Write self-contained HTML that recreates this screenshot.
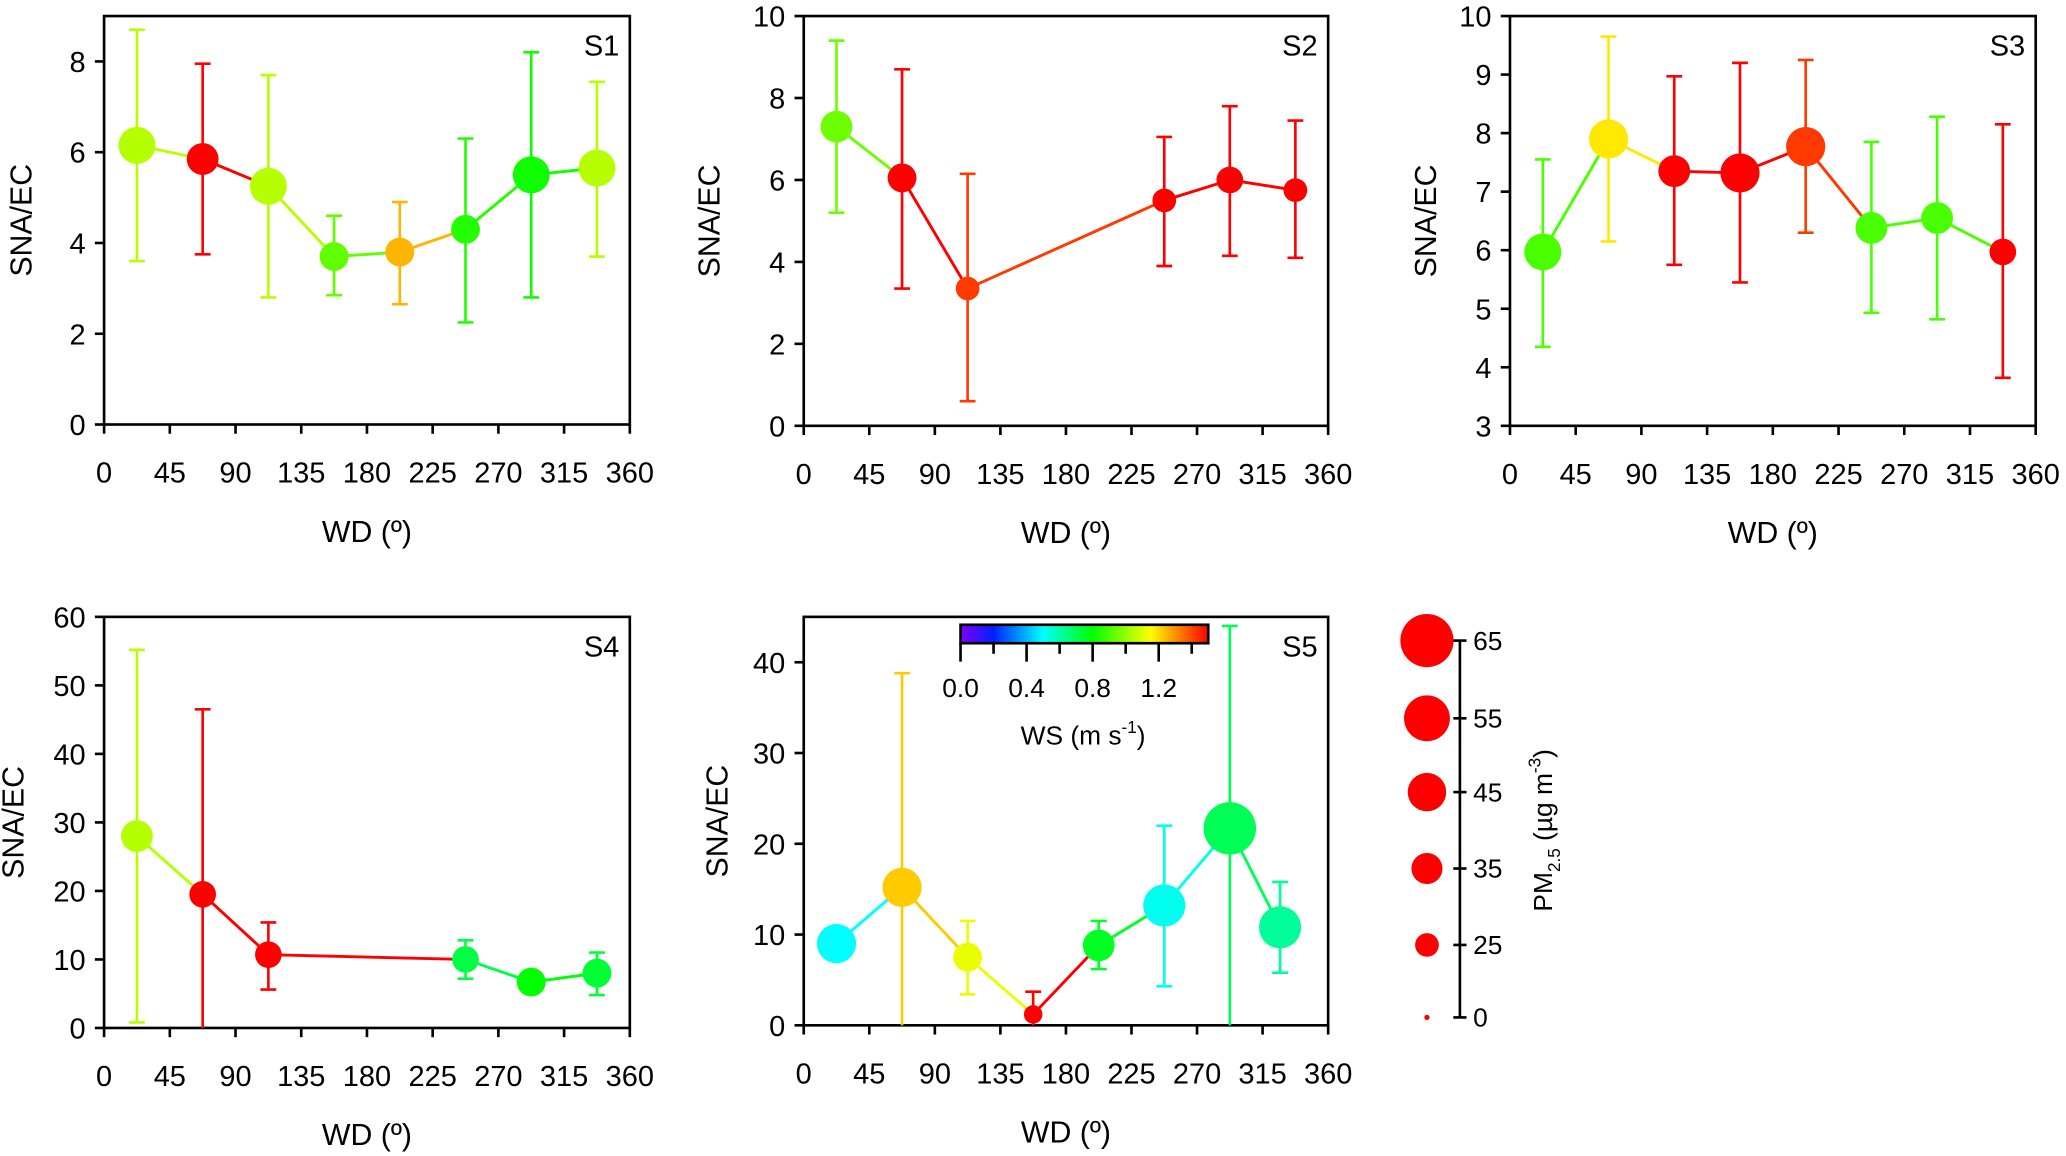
<!DOCTYPE html>
<html><head><meta charset="utf-8"><style>
html,body{margin:0;padding:0;background:#fff;}
svg{display:block;font-family:"Liberation Sans",Arial,sans-serif;}
</style></head><body>
<svg id="fig" width="2066" height="1156" viewBox="0 0 1568 877" xmlns="http://www.w3.org/2000/svg">
<defs>
<linearGradient id="wsgrad" x1="0" x2="1" y1="0" y2="0">
<stop offset="0" stop-color="#8000ff"/><stop offset="0.133" stop-color="#0020ff"/><stop offset="0.333" stop-color="#00ffff"/><stop offset="0.533" stop-color="#00ff00"/><stop offset="0.767" stop-color="#ffff00"/><stop offset="0.867" stop-color="#ff9000"/><stop offset="1" stop-color="#ff0000"/>
</linearGradient>
</defs>
</svg>
<script>
// ---- data ----
const wdCategories = [22.5, 67.5, 112.5, 157.5, 202.5, 247.5, 292.5, 337.5];
const xTicks = [0,45,90,135,180,225,270,315,360];
const s1WD = [22.5,67.5,112.5,157.5,202.5,247.5,292.5,337.5];
const s1Val = [6.15,5.85,5.25,3.7,3.8,4.3,5.5,5.65];
const s1Hi = [8.7,7.95,7.7,4.6,4.9,6.3,8.2,7.55];
const s1Lo = [3.6,3.75,2.8,2.85,2.65,2.25,2.8,3.7];
const s1WS = [1.05,1.5,1.05,0.93,1.25,0.85,0.82,1.05];
const s1PM = [43,36,43,32,32,32,43,43];
const s2WD = [22.5,67.5,112.5,247.5,292.5,337.5];
const s2Val = [7.3,6.05,3.35,5.5,6.0,5.75];
const s2Hi = [9.4,8.7,6.15,7.05,7.8,7.45];
const s2Lo = [5.2,3.35,0.6,3.9,4.15,4.1];
const s2WS = [0.95,1.5,1.42,1.5,1.5,1.5];
const s2PM = [36,32,25,25,29,25];
const s3WD = [22.5,67.5,112.5,157.5,202.5,247.5,292.5,337.5];
const s3Val = [5.97,7.9,7.35,7.32,7.77,6.38,6.55,5.97];
const s3Hi = [7.55,9.65,8.97,9.2,9.25,7.85,8.28,8.15];
const s3Lo = [4.35,6.15,5.75,5.45,6.3,4.93,4.82,3.82];
const s3WS = [0.9,1.18,1.5,1.5,1.42,0.9,0.9,1.5];
const s3PM = [43,46,36,46,46,36,36,29];
const s4WD = [22.5,67.5,112.5,247.5,292.5,337.5];
const s4Val = [28,19.5,10.7,10,6.7,8];
const s4Hi = [55.2,46.5,15.4,12.8,6.7,11];
const s4Lo = [0.8,0,5.6,7.2,6.7,4.8];
const s4WS = [1.05,1.5,1.5,0.72,0.8,0.74];
const s4PM = [36,29,29,29,32,32];
const s5WD = [22.5,67.5,112.5,157.5,202.5,247.5,292.5,327];
const s5Val = [9,15.2,7.5,1.2,8.8,13.2,21.7,10.8];
const s5Hi = [9,38.8,11.5,3.7,11.5,22,44,15.8];
const s5Lo = [9,0,3.4,0,6.2,4.3,0,5.8];
const s5WS = [0.5,1.22,1.12,1.5,0.76,0.52,0.7,0.62];
const s5PM = [46,46,32,18,36,50,64,50];
const pmLegend = [65,55,45,35,25,0];
const wsTicks = [0.0,0.4,0.8,1.2];

// ---- helpers ----
const NS='http://www.w3.org/2000/svg';
const svg=document.getElementById('fig');
function mk(tag,attrs,parent){const e=document.createElementNS(NS,tag);for(const k in attrs)e.setAttribute(k,attrs[k]);(parent||svg).appendChild(e);return e;}
const stops=[[0,[128,0,255]],[0.2,[0,32,255]],[0.5,[0,255,255]],[0.8,[0,255,0]],[1.15,[255,255,0]],[1.3,[255,144,0]],[1.5,[255,0,0]]];
function wsColor(v){v=Math.max(0,Math.min(1.5,v));for(let i=0;i<stops.length-1;i++){const a=stops[i],b=stops[i+1];if(v<=b[0]){const t=(v-a[0])/(b[0]-a[0]);const c=a[1].map((x,j)=>Math.round(x+(b[1][j]-x)*t));return 'rgb('+c.join(',')+')';}}return 'rgb(255,0,0)';}
function pmR(pm){return 2+0.28*pm;}

function panel(cfg){
  const g=mk('g',{});
  
  
  const {x0,x1,y0,y1,ymin,ymax}=cfg;
  const sx=v=>x0+(v-0)/360*(x1-x0);
  const sy=v=>y1-(v-ymin)/(ymax-ymin)*(y1-y0);
  const frame=mk('rect',{x:x0,y:y0,width:x1-x0,height:y1-y0,fill:'none',stroke:'#000','stroke-width':2},g);
  
  
  xTicks.forEach(t=>{
    mk('line',{x1:sx(t),x2:sx(t),y1:y1,y2:y1+7,stroke:'#000','stroke-width':2},g);
    const tl=mk('text',{x:sx(t),y:y1+44,'font-size':22,'text-anchor':'middle'},g);tl.textContent=t;
    
    
  });
  cfg.yticks.forEach(t=>{
    mk('line',{x1:x0-7,x2:x0,y1:sy(t),y2:sy(t),stroke:'#000','stroke-width':2},g);
    const tl=mk('text',{x:x0-14,y:sy(t)+8,'font-size':22,'text-anchor':'end'},g);tl.textContent=t;
    
    
  });
  const xl=mk('text',{x:(x0+x1)/2,y:y1+89,'font-size':23,'text-anchor':'middle'},g);xl.textContent='WD (º)';
  
  
  const yl=mk('text',{x:0,y:0,'font-size':23,'text-anchor':'middle',transform:`translate(${cfg.ylx},${(y0+y1)/2}) rotate(-90)`},g);yl.textContent='SNA/EC';
  
  
  const st=mk('text',{x:x1-8,y:y0+30,'font-size':22,'text-anchor':'end'},g);st.textContent=cfg.label;
  
  
  const n=cfg.wd.length;
  for(let i=0;i<n-1;i++){
    const ln=mk('line',{x1:sx(cfg.wd[i]),y1:sy(cfg.val[i]),x2:sx(cfg.wd[i+1]),y2:sy(cfg.val[i+1]),stroke:wsColor(cfg.ws[i]),'stroke-width':2.2},g);
    
    
  }
  for(let i=0;i<n;i++){
    const c=wsColor(cfg.ws[i]),x=sx(cfg.wd[i]);
    if(cfg.hi[i]!==cfg.lo[i]){
      const eb=mk('path',{d:`M${x},${sy(cfg.hi[i])}V${sy(Math.max(cfg.lo[i],ymin))}M${x-6},${sy(cfg.hi[i])}H${x+6}`+(cfg.lo[i]>ymin?`M${x-6},${sy(cfg.lo[i])}H${x+6}`:''),stroke:c,'stroke-width':2,fill:'none'},g);
      
      
    }
    const pt=mk('circle',{cx:x,cy:sy(cfg.val[i]),r:pmR(cfg.pm[i]),fill:c},g);
    
    
  }
}

panel({name:'panel-s1',label:'S1',x0:79,x1:478,y0:12,y1:322,ymin:0,ymax:9,yticks:[0,2,4,6,8],ylx:24,wd:s1WD,val:s1Val,hi:s1Hi,lo:s1Lo,ws:s1WS,pm:s1PM});
panel({name:'panel-s2',label:'S2',x0:610,x1:1008,y0:12,y1:323,ymin:0,ymax:10,yticks:[0,2,4,6,8,10],ylx:546,wd:s2WD,val:s2Val,hi:s2Hi,lo:s2Lo,ws:s2WS,pm:s2PM});
panel({name:'panel-s3',label:'S3',x0:1146,x1:1545,y0:12,y1:323,ymin:3,ymax:10,yticks:[3,4,5,6,7,8,9,10],ylx:1090,wd:s3WD,val:s3Val,hi:s3Hi,lo:s3Lo,ws:s3WS,pm:s3PM});
panel({name:'panel-s4',label:'S4',x0:79,x1:478,y0:468,y1:780,ymin:0,ymax:60,yticks:[0,10,20,30,40,50,60],ylx:18,wd:s4WD,val:s4Val,hi:s4Hi,lo:s4Lo,ws:s4WS,pm:s4PM});
panel({name:'panel-s5',label:'S5',x0:610,x1:1008,y0:468,y1:778,ymin:0,ymax:45,yticks:[0,10,20,30,40],ylx:552,wd:s5WD,val:s5Val,hi:s5Hi,lo:s5Lo,ws:s5WS,pm:s5PM});

// colorbar
const cb=mk('g',{});


const cbx0=729,cbx1=917;
mk('rect',{x:cbx0,y:474,width:cbx1-cbx0,height:14,fill:'url(#wsgrad)',stroke:'#000','stroke-width':2},cb);
const cbx=v=>cbx0+v/1.5*(cbx1-cbx0);
[0,0.2,0.4,0.6,0.8,1.0,1.2,1.4].forEach((t,i)=>mk('line',{x1:cbx(t),x2:cbx(t),y1:488,y2:i%2?496:502,stroke:'#000','stroke-width':2},cb));
wsTicks.forEach(t=>{const tl=mk('text',{x:cbx(t),y:529,'font-size':20,'text-anchor':'middle'},cb);tl.textContent=t.toFixed(1);

});
const cbt=mk('text',{x:822,y:565,'font-size':20,'text-anchor':'middle'},cb);
cbt.innerHTML='WS (m s<tspan dy="-9" font-size="13">-1</tspan><tspan dy="9">)</tspan>';



// size legend
const sl=mk('g',{});


const ly=v=>772-v/65*(772-486);
const lyPos=[486,545,601,659,717,772];
mk('line',{x1:1108,x2:1108,y1:486,y2:772,stroke:'#000','stroke-width':2},sl);
pmLegend.forEach((v,i)=>{
  const y=lyPos[i];
  mk('line',{x1:1103,x2:1113,y1:y,y2:y,stroke:'#000','stroke-width':2},sl);
  const c=mk('circle',{cx:1083,cy:y,r:pmR(v),fill:'#ff0000'},sl);
  
  
  const t=mk('text',{x:1118,y:y+7,'font-size':20},sl);t.textContent=v;
  
  
});
const st=mk('text',{x:0,y:0,'font-size':20,'text-anchor':'middle',transform:'translate(1178,630) rotate(-90)'},sl);
st.innerHTML='PM<tspan dy="6" font-size="13">2.5</tspan><tspan dy="-6"> (µg m</tspan><tspan dy="-9" font-size="13">-3</tspan><tspan dy="9">)</tspan>';


</script>
</body></html>
